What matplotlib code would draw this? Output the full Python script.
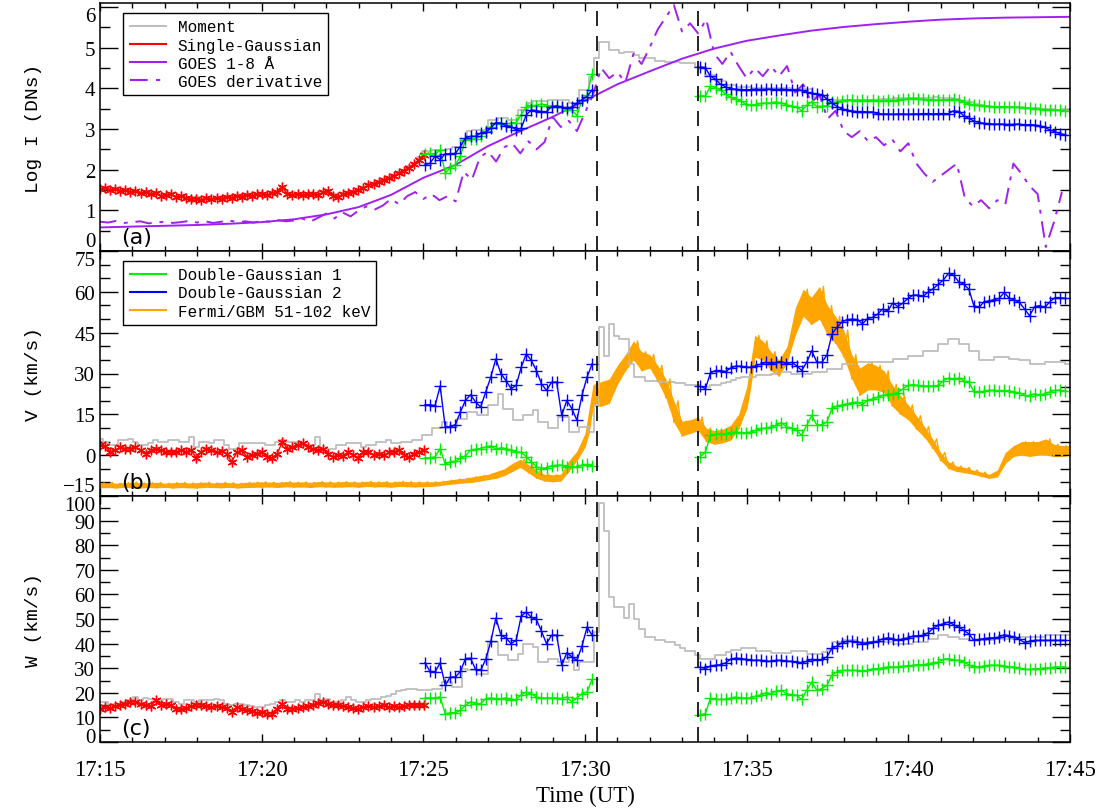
import numpy as np
import matplotlib
matplotlib.use("Agg")
import matplotlib.pyplot as plt
from matplotlib.lines import Line2D
from matplotlib.ticker import MultipleLocator, FuncFormatter

plt.rcParams['font.family'] = ['Liberation Serif', 'DejaVu Serif']

# all times are seconds after 17:15:00 UT
CADENCE = 9.4
T0_DG1 = 603.0       # first double-Gaussian fit, before the gap
T0_DG2 = 1114.0      # first double-Gaussian fit, after the gap
T_MARKS = [922.0, 1110.0]   # 17:30:22 and 17:33:30

GRAY = '#bebebe'
PURPLE = '#a020f0'
GREEN = '#00ee00'
BLUE = '#0000ff'
RED = '#ff0000'
ORANGE = '#ffa500'
DERIV_STYLE = (0, (8.5, 4, 2, 4))

# ---------------- (a) Log intensity ----------------
mom_I = [1.55, 1.57, 1.53, 1.55, 1.51, 1.53, 1.49, 1.50, 1.46, 1.47,
         1.44, 1.45, 1.39, 1.41, 1.42, 1.36, 1.38, 1.33, 1.30, 1.32,
         1.29, 1.32, 1.31, 1.33, 1.32, 1.35, 1.34, 1.37, 1.37, 1.40,
         1.39, 1.41, 1.43, 1.41, 1.44, 1.46, 1.58, 1.43, 1.41, 1.42,
         1.40, 1.42, 1.43, 1.41, 1.46, 1.49, 1.39, 1.36, 1.42, 1.45,
         1.48, 1.52, 1.57, 1.64, 1.68, 1.72, 1.76, 1.81, 1.86, 1.94,
         2.00, 2.08, 2.17, 2.30,
         2.45, 2.45, 2.49, 2.49, 2.48, 2.50, 2.57, 2.57, 2.74, 2.94,
         2.98, 2.98, 2.98, 3.23, 3.23, 3.27, 3.27, 3.23, 3.23, 3.47,
         3.47, 3.64, 3.68, 3.68, 3.68, 3.72, 3.72, 3.72, 3.72, 3.65,
         3.65, 3.96, 3.96, 4.29,
         4.74, 5.15, 5.15, 4.94, 4.94, 4.88, 4.90, 4.90, 4.82, 4.74,
         4.74, 4.74, 4.67, 4.67, 4.66, 4.66, 4.66, 4.62, 4.62, 4.62,
         4.53, 4.53, 4.33, 4.33, 4.17, 4.17, 4.08, 4.08, 4.03,
         4.03, 4.03, 4.02, 4.02, 4.01, 4.01, 4.00,
         4.00, 4.00, 4.00, 3.99, 3.98, 3.98,
         3.98, 3.80, 3.80, 3.80, 3.72,
         3.72, 3.72, 3.71, 3.71, 3.72, 3.72, 3.71, 3.71, 3.72, 3.73,
         3.74, 3.75, 3.76, 3.76, 3.77, 3.77, 3.76, 3.76, 3.76, 3.77,
         3.78, 3.77, 3.76, 3.76, 3.75, 3.70,
         3.68, 3.66, 3.62, 3.58, 3.56, 3.55, 3.55, 3.55, 3.54, 3.54,
         3.53, 3.53, 3.52, 3.52, 3.51, 3.50, 3.50, 3.49, 3.48, 3.48, 3.47]

sg_I = [1.52, 1.55, 1.50, 1.53, 1.48, 1.51, 1.46, 1.47, 1.43, 1.45,
        1.41, 1.42, 1.36, 1.38, 1.40, 1.33, 1.35, 1.30, 1.27, 1.29,
        1.26, 1.30, 1.28, 1.31, 1.29, 1.33, 1.31, 1.35, 1.34, 1.38,
        1.36, 1.39, 1.41, 1.38, 1.42, 1.44, 1.58, 1.40, 1.38, 1.40,
        1.37, 1.39, 1.41, 1.38, 1.44, 1.48, 1.36, 1.33, 1.40, 1.43,
        1.46, 1.50, 1.55, 1.62, 1.66, 1.70, 1.74, 1.79, 1.84, 1.92,
        1.98, 2.05, 2.14, 2.25, 2.36]

dg1_I_pre = [2.39, 2.40, 2.37, 2.49, 1.92, 2.04, 2.12, 2.33, 2.74, 2.76,
             2.76, 2.82, 2.94, 3.06, 3.16, 3.13, 3.11, 3.15, 3.16, 3.35,
             3.55, 3.59, 3.57, 3.62, 3.57, 3.57, 3.55, 3.54, 3.47, 3.47,
             3.33, 3.72, 3.84, 4.36]
dg1_I_post = [3.82, 3.81, 4.06, 4.02, 3.96, 3.86, 3.78, 3.74, 3.68, 3.61,
              3.59, 3.60, 3.63, 3.64, 3.64, 3.67, 3.64, 3.60, 3.56, 3.54,
              3.45, 3.58, 3.67, 3.55, 3.56, 3.57, 3.66, 3.67, 3.70, 3.71,
              3.71, 3.70, 3.71, 3.70, 3.71, 3.70, 3.70, 3.71, 3.70, 3.72,
              3.73, 3.74, 3.76, 3.74, 3.73, 3.72, 3.72, 3.71, 3.72, 3.72,
              3.73, 3.72, 3.66, 3.62, 3.59, 3.58, 3.57, 3.56, 3.55, 3.55,
              3.55, 3.54, 3.54, 3.53, 3.52, 3.51, 3.50, 3.49, 3.48, 3.47,
              3.46, 3.46, 3.44]
dg2_I_pre = [2.12, 2.16, 2.33, 2.25, 2.39, 2.39, 2.40, 2.57, 2.78, 2.82,
             2.82, 2.90, 2.92, 3.02, 3.16, 3.14, 3.08, 3.06, 2.98, 3.02,
             3.35, 3.47, 3.45, 3.43, 3.43, 3.55, 3.57, 3.54, 3.51, 3.54,
             3.64, 3.72, 3.80, 3.96]
dg2_I_post = [4.53, 4.50, 4.30, 4.22, 4.10, 4.04, 3.99, 3.98, 3.97, 3.97,
              3.97, 3.98, 3.97, 3.98, 3.98, 3.97, 3.98, 3.97, 3.97, 3.96,
              3.95, 3.91, 3.88, 3.86, 3.84, 3.74, 3.64, 3.55, 3.50, 3.46,
              3.44, 3.43, 3.43, 3.42, 3.42, 3.38, 3.37, 3.37, 3.36, 3.37,
              3.37, 3.36, 3.37, 3.37, 3.38, 3.38, 3.37, 3.38, 3.38, 3.38,
              3.45, 3.43, 3.33, 3.26, 3.20, 3.16, 3.14, 3.13, 3.12, 3.12,
              3.12, 3.11, 3.12, 3.12, 3.10, 3.11, 3.10, 3.08, 3.04, 2.98,
              2.93, 2.89, 2.86]

# GOES 1-8 A, one value per minute (scaled)
goes_flux = [0.58, 0.60, 0.62, 0.64, 0.67, 0.71, 0.78, 0.90, 1.08, 1.38,
             1.80, 2.12, 2.58, 2.95, 3.30, 3.70, 4.10, 4.42, 4.73, 4.98,
             5.17, 5.30, 5.42, 5.51, 5.58, 5.64, 5.69, 5.72, 5.74, 5.75, 5.76]
# GOES derivative, one value per 15 s (scaled)
goes_deriv = [0.72, 0.70, 0.74, 0.69, 0.71, 0.73, 0.68, 0.70, 0.72, 0.69,
              0.71, 0.74, 0.70, 0.73, 0.69, 0.72, 0.75, 0.71, 0.73, 0.70,
              0.74, 0.72, 0.76, 0.73, 0.75, 0.80, 0.72, 0.82, 0.92, 0.80,
              0.95, 0.85, 1.00, 1.10, 1.02, 1.12, 1.28, 1.15, 1.35, 1.45,
              1.28, 1.40, 1.25, 1.35, 1.22, 1.95, 1.75, 2.30, 2.45, 2.20,
              2.55, 2.65, 2.40, 2.70, 2.50, 2.68, 3.30, 3.05, 3.20, 2.95,
              3.40, 3.85, 4.50, 4.25, 4.40, 4.15, 4.85, 4.60, 5.00, 5.45,
              5.75, 6.05, 5.40, 5.60, 5.35, 5.70, 4.85, 4.60, 4.90, 4.55,
              4.25, 4.50, 4.30, 4.55, 4.30, 4.55, 3.90, 4.10, 3.65, 3.85,
              3.25, 3.45, 2.95, 2.80, 2.95, 2.70, 2.80, 2.60, 2.75, 2.45,
              2.65, 2.15, 1.90, 1.70, 1.85, 2.00, 2.15, 1.30, 1.10, 1.25,
              1.05, 1.25, 1.15, 2.15, 1.90, 1.60, 1.40, 0.10, 0.70, 1.45]

# ---------------- (b) Doppler velocity ----------------
mom_V = [6.1, 4.9, 3.7, 3.7, 5.5, 5.5, 6.1, 4.9, 3.7, 3.7,
         4.3, 5.5, 4.9, 4.9, 5.5, 5.5, 4.9, 4.9, 6.7, 3.0,
         4.9, 4.9, 4.3, 5.5, 5.5, 3.7, 2.4, 2.4, 4.3, 4.3,
         4.3, 4.3, 4.3, 3.7, 3.7, 4.9, 5.5, 4.9, 4.9, 4.9,
         3.7, 3.7, 3.7, 6.7, 2.4, 2.4, 2.4, 3.7, 3.7, 4.3,
         4.3, 4.3, 3.0, 3.7, 3.7, 4.9, 4.9, 5.5, 4.3, 4.3,
         4.9, 4.9, 5.5, 5.5,
         7.3, 7.3, 9.8, 9.8, 12.2, 10.4, 10.4, 13.4, 13.4, 15.9,
         15.9, 14.6, 14.6, 18.3, 18.3, 22.6, 17.1, 17.1, 12.8, 12.8,
         14.6, 14.6, 16.5, 12.2, 12.2, 9.8, 9.8, 14.0, 14.0, 8.5,
         8.5, 10.4, 10.4, 8.5,
         18.3, 47.0, 36.6, 48.2, 43.9, 42.7, 42.7, 33.5, 28.7, 28.7,
         27.4, 27.4, 27.4, 26.8, 26.8, 26.8, 26.6, 26.6, 25.6, 25.6, 25.6,
         25.0, 25.0, 25.6, 25.9, 26.5, 27.0, 27.5, 28.2, 28.7, 28.7,
         28.7, 29.3, 29.3, 29.3, 30.0, 30.5, 30.5, 30.5, 29.9, 29.9,
         29.9, 29.9,
         30.5, 30.5, 30.5, 31.7, 31.7, 31.7, 33.5, 33.5, 33.5, 34.1,
         34.1, 34.1, 34.1, 34.1, 34.1, 34.1, 35.4, 35.4, 35.4, 36.6,
         36.6, 36.6, 38.4, 38.4, 38.4, 40.9, 40.9, 42.7, 42.7, 40.9,
         40.9, 38.4, 38.4, 34.8, 34.8,
         34.8, 36.0, 36.0, 36.0, 35.4, 35.4, 34.8, 34.8, 33.5, 33.5,
         33.5, 34.1, 34.1, 34.1, 34.1, 33.5]

sg_V = [3.7, 3.2, 1.2, 1.8, 3.0, 2.4, 2.4, 3.0, 1.8, 0.6,
        1.8, 2.4, 1.8, 1.0, 1.2, 1.0, 1.8, 1.2, 1.8, -1.0,
        1.2, 2.4, 1.8, 1.0, 1.5, 0.6, -2.4, 1.0, 1.8, -0.6,
        0.0, 0.6, 1.2, -0.6, -1.2, 0.6, 4.9, 2.4, 3.0, 3.7,
        4.3, 3.0, 2.4, 1.8, 2.4, 0.6, -0.6, 0.0, -0.2, 1.0,
        0.2, -1.0, 1.0, 1.2, 0.2, 0.6, 0.0, 1.0, 1.2, 1.8,
        0.0, -0.6, 0.6, 1.2, 1.8]

dg1_V_pre = [-1.0, -1.0, -0.6, 2.4, -3.4, -2.4, -2.2, -1.2, -0.2, 1.8,
             2.2, 2.4, 3.0, 3.4, 2.2, 2.7, 2.4, 1.8, 1.2, 1.0,
             -0.6, -2.4, -4.3, -4.9, -4.6, -3.9, -3.7, -3.7, -4.3, -4.3,
             -4.3, -3.7, -3.4, -3.9]
dg1_V_post = [-0.6, 1.2, 7.3, 7.6, 7.9, 7.9, 8.3, 8.5, 8.3, 8.3,
              8.5, 9.1, 9.8, 9.8, 10.4, 11.0, 12.0, 10.4, 10.0, 9.1,
              7.3, 11.0, 14.6, 11.0, 11.2, 12.2, 17.3, 18.0, 18.5, 18.9,
              19.3, 19.5, 18.5, 20.1, 20.7, 21.3, 22.0, 22.2, 22.6, 23.0,
              24.4, 25.6, 25.9, 25.6, 25.4, 25.4, 25.4, 25.6, 27.4, 28.3,
              28.0, 28.3, 27.4, 26.8, 23.4, 23.2, 23.4, 23.8, 23.8, 23.4,
              23.8, 23.4, 23.2, 22.9, 22.0, 21.7, 22.6, 22.0, 22.6, 23.2,
              23.8, 23.8, 23.4]
dg2_V_pre = [18.5, 18.5, 18.2, 25.4, 10.4, 10.4, 11.2, 15.9, 20.1, 22.2,
             19.5, 17.7, 23.2, 28.7, 35.4, 29.9, 27.4, 24.4, 25.6, 32.3,
             37.2, 34.8, 31.1, 26.2, 23.8, 26.8, 26.8, 14.6, 20.1, 17.1,
             12.8, 22.0, 28.7, 33.5]
dg2_V_post = [25.4, 24.4, 30.2, 31.1, 31.1, 30.7, 32.0, 32.7, 32.7, 32.3,
              32.3, 32.9, 33.5, 34.1, 33.5, 34.1, 34.4, 33.5, 34.1, 32.9,
              31.1, 34.1, 38.4, 34.1, 34.1, 36.8, 44.5, 47.0, 49.0, 49.8,
              50.0, 49.8, 48.2, 50.2, 50.6, 51.8, 53.7, 53.0, 55.9, 54.6,
              55.9, 57.6, 58.8, 58.8, 58.3, 60.0, 61.2, 62.8, 64.4, 66.8,
              66.1, 63.7, 62.8, 61.0, 54.9, 54.3, 56.3, 56.7, 57.1, 57.6,
              59.8, 57.6, 57.1, 56.1, 53.7, 51.2, 54.6, 54.9, 54.3, 56.3,
              57.9, 57.9, 57.6]

# Fermi/GBM 51-102 keV (scaled), lower and upper edge of the noisy trace every 15 s
gbm_lo = [-12.0, -11.9, -12.1, -11.8, -12.0, -12.1, -11.9, -12.0, -11.8, -12.1,
          -11.9, -12.0, -12.1, -11.8, -11.9, -12.0, -11.8, -12.1, -11.9, -11.8,
          -11.8, -11.7, -11.9, -11.6, -11.8, -11.7, -11.9, -11.6, -11.7, -11.8,
          -11.7, -11.6, -11.8, -11.5, -11.7, -11.6, -11.8, -11.5, -11.6, -11.7,
          -11.6, -11.5, -11.2, -10.8, -10.5, -10.2, -10.0, -9.5, -9.0, -8.5,
          -7.5, -6.0, -4.5, -6.5, -8.5, -9.5, -9.8, -9.5, -6.0, -2.0,
          3.0, 18.0, 18.0, 19.0, 26.0, 31.0, 35.0, 31.0, 32.0, 27.0,
          21.0, 12.0, 7.0, 8.0, 9.0, 5.0, 4.0, 4.5, 5.5, 9.5,
          17.0, 36.0, 35.0, 31.0, 29.0, 34.0, 44.0, 51.0, 48.0, 50.0,
          44.0, 41.0, 36.0, 28.0, 22.0, 24.0, 24.0, 23.0, 18.0, 15.0,
          13.0, 9.5, 6.5, 2.5, -2.0, -5.0, -6.0, -6.5, -7.0, -7.8,
          -8.5, -8.0, -3.0, -0.5, 0.0, -0.5, 0.0, 0.0, -0.5, -0.5, 0.0]
gbm_hi = [-10.2, -10.0, -10.3, -10.1, -9.9, -10.2, -10.1, -10.0, -10.3, -10.1,
          -10.0, -10.2, -10.1, -9.9, -10.2, -10.0, -10.1, -10.3, -10.0, -9.9,
          -9.8, -9.9, -10.0, -9.7, -9.9, -9.8, -10.0, -9.7, -9.8, -9.9,
          -9.7, -9.8, -9.9, -9.6, -9.8, -9.7, -9.9, -9.6, -9.7, -9.8,
          -9.8, -9.8, -9.6, -9.2, -8.8, -8.5, -8.0, -7.5, -7.0, -6.0,
          -5.0, -3.0, -1.5, -3.5, -5.5, -7.0, -7.2, -7.0, -2.0, 1.5,
          8.0, 26.0, 27.0, 28.0, 33.0, 37.0, 42.0, 38.0, 37.0, 33.0,
          28.0, 20.0, 12.5, 13.0, 14.0, 10.0, 9.0, 9.5, 11.0, 15.0,
          25.0, 44.0, 42.0, 38.0, 35.0, 40.0, 54.0, 61.0, 58.0, 62.0,
          55.0, 51.0, 46.0, 37.0, 32.0, 34.0, 33.0, 31.0, 26.0, 22.0,
          18.5, 14.5, 10.5, 6.0, 1.0, -2.5, -4.0, -4.5, -5.5, -6.2,
          -7.0, -5.5, 1.0, 3.5, 5.0, 5.0, 5.0, 6.0, 4.0, 3.5, 3.5]

# ---------------- (c) line width ----------------
mom_W = [16.3, 16.3, 15.2, 15.6, 15.2, 16.3, 16.9, 18.3, 17.0, 18.0,
         17.5, 16.3, 16.9, 17.5, 17.3, 16.3, 15.6, 16.9, 17.0, 16.3,
         16.9, 16.9, 16.9, 17.5, 17.0, 15.6, 15.0, 15.6, 15.6, 15.2,
         14.6, 14.2, 14.2, 15.0, 15.6, 16.3, 16.9, 16.3, 16.3, 16.9,
         16.3, 16.9, 16.9, 19.6, 16.9, 17.5, 16.3, 16.3, 16.9, 18.3,
         16.9, 16.3, 16.3, 16.9, 17.5, 17.6, 18.3, 18.7, 19.6, 20.6,
         21.1, 21.7, 21.7, 21.0,
         21.0, 21.0, 21.7, 21.7, 24.4, 24.4, 22.4, 22.4, 29.8, 29.1,
         29.1, 27.8, 27.8, 40.7, 40.7, 35.2, 35.2, 33.2, 33.2, 35.9,
         40.0, 40.0, 38.6, 32.5, 32.5, 33.9, 33.9, 32.5, 32.5, 35.2,
         29.1, 32.5, 32.5, 32.5,
         44.7,
         97.0, 85.6, 58.9, 54.9, 54.9, 50.4, 56.2, 50.1, 46.1, 42.7,
         42.7, 41.3, 41.3, 40.7, 40.7, 39.6, 38.2, 36.9, 36.9, 35.2,
         33.6, 33.6, 33.6, 35.2, 35.2, 36.6, 37.3, 37.3, 38.2, 38.2,
         38.2, 36.9, 36.9, 36.9, 36.3, 36.3, 36.3, 36.3, 36.9, 36.9,
         36.9, 35.9, 35.9, 35.9, 36.6, 37.3, 40.7, 40.7, 41.3, 41.3,
         41.3, 40.7,
         40.7, 40.7, 40.7, 40.7, 40.7, 40.7,
         40.0, 40.0, 40.0, 40.0, 40.7, 40.7,
         40.7, 42.0, 42.0, 43.4, 43.4, 42.7, 42.7, 41.7, 41.7,
         41.3, 41.3, 41.3, 41.3, 41.3, 42.0, 42.0, 42.0, 42.0, 42.0,
         42.7, 42.7, 42.7, 42.7, 42.7, 43.6, 43.6, 43.6, 43.6, 43.6]

sg_W = [13.6, 14.2, 13.8, 14.6, 15.2, 15.6, 16.3, 16.3, 15.6, 14.9,
        14.6, 16.9, 15.2, 15.6, 14.9, 13.6, 13.3, 13.8, 14.6, 14.9,
        15.2, 14.6, 14.2, 14.6, 14.2, 13.8, 12.2, 14.2, 13.6, 12.9,
        12.5, 11.9, 12.2, 11.5, 11.5, 13.6, 15.6, 13.3, 13.6, 13.8,
        14.2, 14.6, 15.2, 16.0, 16.3, 15.6, 15.2, 14.9, 14.6, 14.2,
        13.8, 13.6, 14.2, 14.6, 14.2, 14.6, 14.9, 14.2, 14.6, 14.2,
        14.6, 14.9, 15.2, 14.9, 15.2]

dg1_W_pre = [17.9, 17.9, 17.9, 18.3, 11.5, 11.9, 11.9, 12.9, 14.9, 16.3,
             15.6, 15.6, 17.6, 17.9, 17.6, 17.6, 17.9, 16.9, 17.3, 19.2,
             20.3, 19.6, 18.3, 17.9, 17.9, 17.9, 17.9, 17.6, 18.3, 16.3,
             17.9, 19.6, 20.3, 25.5]
dg1_W_post = [11.1, 11.5, 17.9, 17.3, 17.3, 17.3, 17.9, 18.3, 17.9, 17.9,
              17.9, 18.7, 19.2, 20.1, 19.6, 20.6, 21.0, 19.6, 19.2, 19.0,
              17.3, 21.0, 24.4, 21.0, 21.7, 23.0, 27.4, 28.5, 29.1, 29.1,
              29.1, 29.1, 28.7, 29.1, 29.8, 29.8, 30.1, 30.5, 30.5, 30.5,
              30.9, 30.9, 31.2, 31.4, 31.4, 31.8, 32.2, 32.5, 33.6, 33.9,
              33.2, 33.2, 32.5, 31.4, 30.5, 30.5, 30.9, 31.2, 31.2, 31.2,
              30.9, 30.5, 30.5, 30.1, 29.5, 29.5, 29.8, 29.8, 30.1, 30.1,
              30.5, 30.5, 30.5]
dg2_W_pre = [32.2, 28.7, 28.5, 32.2, 23.0, 26.4, 26.4, 28.7, 33.9, 34.1,
             29.5, 29.1, 33.6, 40.9, 50.4, 43.4, 42.3, 40.0, 41.3, 51.2,
             52.8, 50.7, 49.8, 45.0, 40.0, 43.4, 43.4, 31.2, 36.3, 34.6,
             33.2, 39.0, 46.7, 43.4]
dg2_W_post = [30.5, 29.8, 30.9, 31.2, 31.4, 32.2, 33.6, 34.1, 33.9, 33.6,
              33.2, 33.2, 33.2, 32.8, 32.8, 33.2, 33.2, 32.8, 32.8, 32.5,
              32.2, 32.8, 33.6, 33.2, 33.6, 34.6, 38.2, 39.0, 40.4, 40.9,
              40.9, 40.7, 40.0, 40.4, 40.7, 40.9, 42.0, 42.3, 42.0, 41.3,
              42.0, 42.3, 43.1, 43.1, 43.4, 44.4, 46.3, 47.4, 48.1, 48.8,
              47.7, 46.7, 45.4, 44.0, 41.3, 41.7, 42.0, 42.3, 42.3, 42.7,
              43.6, 43.1, 42.7, 41.7, 40.4, 40.9, 41.3, 41.3, 41.3, 41.3,
              41.3, 41.3, 41.3]


def times(n, t0=0.0, dt=CADENCE):
    return t0 + dt * np.arange(n)


def draw_moment(ax, vals):
    ax.plot(times(len(vals)), vals, drawstyle='steps-mid', color=GRAY, lw=1.3)


def draw_fits(ax, sg, dg1_pre, dg1_post, dg2_pre, dg2_post):
    ax.plot(times(len(sg)), sg, color=RED, lw=1.0,
            marker=(6, 2, 0), ms=7, mew=1.0)
    for vals, t0 in ((dg1_pre, T0_DG1), (dg1_post, T0_DG2)):
        ax.plot(times(len(vals), t0), vals, color=GREEN, lw=1.0,
                marker='+', ms=8, mew=1.0)
    for vals, t0 in ((dg2_pre, T0_DG1), (dg2_post, T0_DG2)):
        ax.plot(times(len(vals), t0), vals, color=BLUE, lw=1.0,
                marker='+', ms=8, mew=1.0)


fig = plt.figure(figsize=(11.05, 8.12), dpi=100)
left, width = 100 / 1105, 970 / 1105
ax_a = fig.add_axes([left, 1 - 252 / 812, width, 248 / 812])
ax_b = fig.add_axes([left, 1 - 497 / 812, width, 245 / 812])
ax_c = fig.add_axes([left, 1 - 743 / 812, width, 246 / 812])

# (a)
draw_moment(ax_a, mom_I)
ax_a.plot(60.0 * np.arange(len(goes_flux)), goes_flux, color=PURPLE, lw=1.4)
ax_a.plot(15.0 * np.arange(len(goes_deriv)), goes_deriv, color=PURPLE, lw=1.4,
          linestyle=DERIV_STYLE)
draw_fits(ax_a, sg_I, dg1_I_pre, dg1_I_post, dg2_I_pre, dg2_I_post)

# (b)
draw_moment(ax_b, mom_V)
t_gbm = 15.0 * np.arange(len(gbm_lo))
ax_b.fill_between(t_gbm, gbm_lo, gbm_hi, color=ORANGE, lw=0)
zig_t = np.column_stack([t_gbm, t_gbm + 7.5]).ravel()
zig_v = np.column_stack([gbm_lo, gbm_hi]).ravel()
ax_b.plot(zig_t, zig_v, color=ORANGE, lw=1.0)
draw_fits(ax_b, sg_V, dg1_V_pre, dg1_V_post, dg2_V_pre, dg2_V_post)

# (c)
draw_moment(ax_c, mom_W)
draw_fits(ax_c, sg_W, dg1_W_pre, dg1_W_post, dg2_W_pre, dg2_W_post)

ylims = [(0, 6.1), (-15, 75), (0, 100)]
yticks = [np.arange(0, 7, 1), np.arange(-15, 76, 15), np.arange(0, 101, 10)]
yminor = [0.5, 5, 5]
ylabels = ['Log I (DNs)', 'V (km/s)', 'W (km/s)']
tags = ['(a)', '(b)', '(c)']
# the lowest tick label of (a) and (b) sits on the panel below, so lift it clear
bottom_va = ['bottom', 'bottom', 'baseline']

for ax, lim, tk, mn, lab, tag, bva in zip((ax_a, ax_b, ax_c), ylims, yticks,
                                           yminor, ylabels, tags, bottom_va):
    for tm in T_MARKS:
        ax.axvline(tm, color='black', lw=1.2, dashes=(9, 6))
    ax.set_xlim(0, 1800)
    ax.set_ylim(*lim)
    ax.set_xticks(np.arange(0, 1801, 300))
    ax.xaxis.set_minor_locator(MultipleLocator(60))
    ax.set_yticks(tk)
    ax.yaxis.set_minor_locator(MultipleLocator(mn))
    ax.tick_params(which='both', direction='in', top=True, right=True, width=1)
    ax.tick_params(axis='y', which='major', length=13, labelsize=15)
    ax.tick_params(axis='y', which='minor', length=7)
    ax.tick_params(axis='x', which='major', length=6, labelsize=16.5)
    ax.tick_params(axis='x', which='minor', length=3.5)
    for sp in ax.spines.values():
        sp.set_linewidth(1.1)
    ax.set_ylabel(lab, family='Liberation Mono', fontsize=14)
    ax.yaxis.set_label_coords(-0.06, 0.5)
    ax.text(0.022, 0.015, tag, transform=ax.transAxes, family='DejaVu Sans',
            fontsize=16, va='bottom', ha='left')
    labs = ax.get_yticklabels()
    labs[0].set_verticalalignment(bva)
    labs[-1].set_verticalalignment('top')

for ax in (ax_a, ax_b):
    ax.tick_params(labelbottom=False)

ax_c.xaxis.set_major_formatter(
    FuncFormatter(lambda x, p: '17:%02d' % (15 + int(round(x / 60)))))
ax_c.tick_params(axis='x', pad=12)
ax_c.set_xlabel('Time (UT)', fontsize=16.5, labelpad=4)

# legends
h_a = [Line2D([], [], color=GRAY, lw=1.5),
       Line2D([], [], color=RED, lw=1.5),
       Line2D([], [], color=PURPLE, lw=1.5),
       Line2D([], [], color=PURPLE, lw=1.5, linestyle=DERIV_STYLE)]
leg = ax_a.legend(h_a, ['Moment', 'Single-Gaussian', 'GOES 1-8 Å',
                        'GOES derivative'],
                  loc='upper left', bbox_to_anchor=(0.024, 0.96),
                  borderaxespad=0, fancybox=False, edgecolor='black',
                  framealpha=1, handlelength=2.3, handletextpad=0.7,
                  labelspacing=0.2, borderpad=0.4,
                  prop={'family': 'Liberation Mono', 'size': 11.5})
leg.get_frame().set_linewidth(1.0)

h_b = [Line2D([], [], color=GREEN, lw=1.5),
       Line2D([], [], color=BLUE, lw=1.5),
       Line2D([], [], color=ORANGE, lw=1.5)]
leg = ax_b.legend(h_b, ['Double-Gaussian 1', 'Double-Gaussian 2',
                        'Fermi/GBM 51-102 keV'],
                  loc='upper left', bbox_to_anchor=(0.024, 0.96),
                  borderaxespad=0, fancybox=False, edgecolor='black',
                  framealpha=1, handlelength=2.3, handletextpad=0.7,
                  labelspacing=0.2, borderpad=0.4,
                  prop={'family': 'Liberation Mono', 'size': 11.5})
leg.get_frame().set_linewidth(1.0)

fig.savefig('out.png', dpi=100)
